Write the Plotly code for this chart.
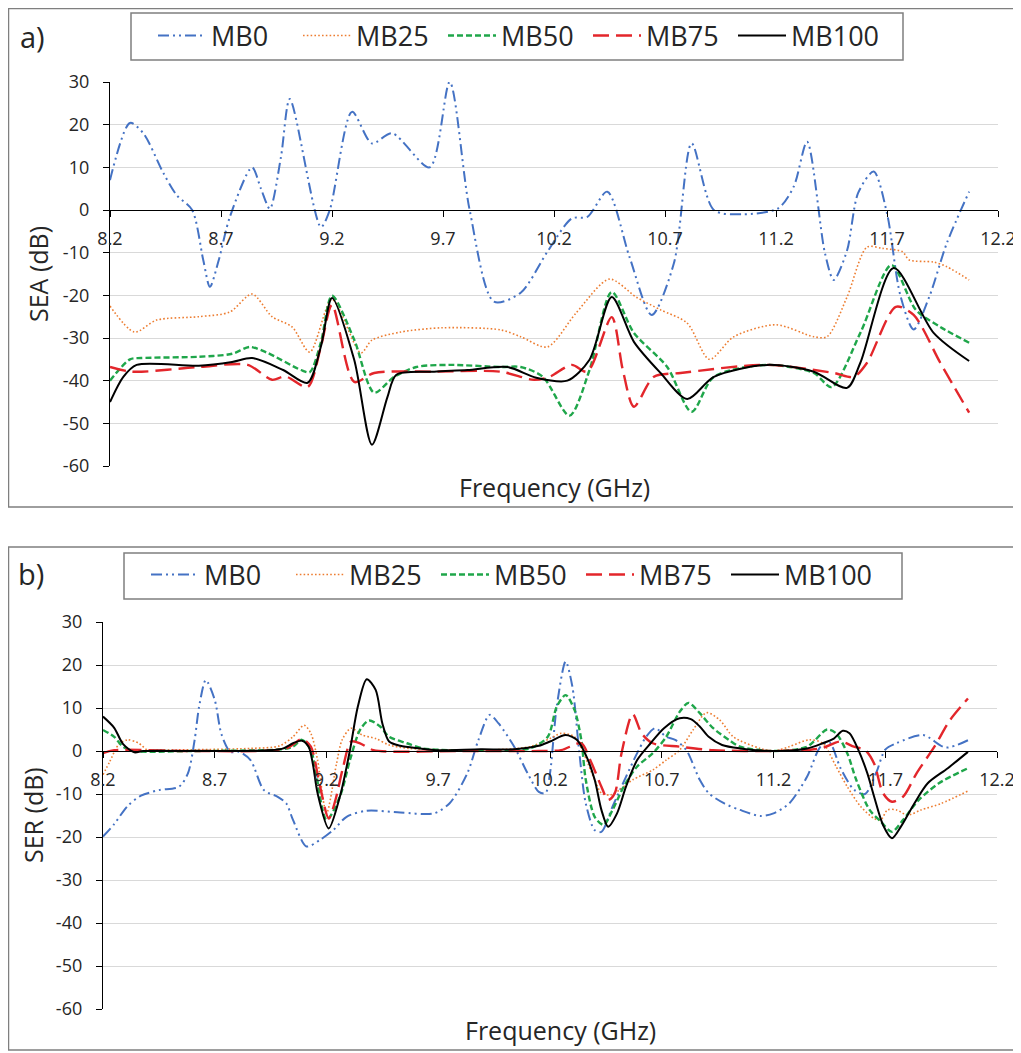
import plotly.graph_objects as go

# target picture size and the page's default body margin (the figure is drawn 8px in from the corner)
PAGE_W, PAGE_H, OFF = 1021, 1053, 8
FW, FH = PAGE_W - OFF, PAGE_H - OFF

series_names = ["MB0", "MB25", "MB50", "MB75", "MB100"]
x_ticks = [8.2, 8.7, 9.2, 9.7, 10.2, 10.7, 11.2, 11.7, 12.2]
x_ticktext = ["8.2", "8.7", "9.2", "9.7", "10.2", "10.7", "11.2", "11.7", "12.2"]
y_ticks = [-60, -50, -40, -30, -20, -10, 0, 10, 20, 30]
y_ticktext = ["-60", "-50", "-40", "-30", "-20", "-10", "0", "10", "20", "30"]

# ---------- Panel a: SEA (dB) ----------
sea_mb0_f = [8.20, 8.29, 8.35, 8.44, 8.50, 8.57, 8.62, 8.65, 8.69, 8.74, 8.84, 8.88, 8.92, 8.97, 9.01, 9.15, 9.19,
             9.29, 9.38, 9.47, 9.64, 9.73, 9.82, 9.93, 10.05, 10.17, 10.28, 10.35, 10.44, 10.54, 10.64,
             10.74, 10.82, 10.92, 11.05, 11.21, 11.28, 11.34, 11.42, 11.46, 11.52, 11.57, 11.64, 11.70,
             11.76, 11.82, 11.89, 11.97, 12.07]
sea_mb0_v = [7, 20.4, 18, 8.7, 3.5, 0, -11.7, -18, -11.7, -1.6, 10, 5, 0.3, 12.4, 26, -4, 0,
             23, 15.6, 18, 10, 30, 0, -21.5, -19.4, -9.8, -2, -1.6, 4.3, -11, -24.6,
             -12.5, 15.6, 0, -1, 0.4, 5.5, 16, -10, -16.4, -9.5, 4, 9, -0.8,
             -20, -28, -20.4, -7.7, 4.3]

sea_mb25_f = [8.20, 8.31, 8.41, 8.60, 8.74, 8.84, 8.93, 9.02, 9.10, 9.20, 9.33, 9.38, 9.51, 9.70, 9.96,
              10.05, 10.17, 10.30, 10.45, 10.57, 10.68, 10.80, 10.90, 11.01, 11.20, 11.37, 11.43, 11.52,
              11.61, 11.68, 11.77, 11.80, 11.91, 11.97, 12.07]
sea_mb25_v = [-22.5, -28.6, -25.8, -25, -23.9, -19.7, -25, -27.4, -33.3, -21, -33.5, -30.5, -28.6, -27.6, -28.1,
              -29.7, -32.1, -24.1, -16.2, -20.4, -23.4, -26.5, -35, -29.7, -26.9, -29.7, -29.7, -20.4,
              -8.7, -9, -9.8, -11.7, -12.2, -13.3, -16.4]

sea_mb50_f = [8.20, 8.29, 8.34, 8.60, 8.75, 8.83, 8.91, 9.06, 9.10, 9.15, 9.20, 9.30, 9.39, 9.48, 9.58, 9.73,
              9.96, 10.05, 10.15, 10.27, 10.36, 10.46, 10.56, 10.71, 10.82, 10.92, 11.16, 11.37, 11.45,
              11.58, 11.72, 11.83, 11.94, 12.07]
sea_mb50_v = [-40, -35, -34.7, -34.4, -33.7, -32.1, -33.5, -37.5, -38, -31, -20.1, -30.4, -42.8, -39.1, -36.8, -36.3,
              -36.8, -36.8, -39.1, -48.2, -37.5, -19.2, -28.8, -36.8, -47.3, -39.1, -36.3, -38.2, -41.5,
              -28.8, -12.9, -23.4, -27.4, -31.1]

sea_mb75_f = [8.20, 8.30, 8.60, 8.82, 8.93, 8.99, 9.09, 9.15, 9.20, 9.30, 9.39, 9.66, 9.96, 10.11, 10.18,
              10.28, 10.35, 10.46, 10.51, 10.56, 10.65, 10.77, 11.16, 11.46, 11.55, 11.61, 11.74, 11.82,
              11.94, 12.07]
sea_mb75_v = [-36.8, -37.9, -36.8, -36.3, -39.8, -39, -41.5, -32, -22.2, -40.3, -38.2, -37.9, -37.9, -39.8, -39.1,
              -36.3, -37.9, -25.1, -37.5, -46.1, -39.1, -38.2, -36.3, -38.2, -39.1, -35.8, -22.7, -24.6,
              -35.8, -47.5]

sea_mb100_f = [8.20, 8.26, 8.32, 8.60, 8.75, 8.84, 8.98, 9.09, 9.15, 9.20, 9.30, 9.38, 9.45, 9.49, 9.66,
               9.81, 9.99, 10.12, 10.26, 10.36, 10.46, 10.56, 10.68, 10.80, 10.92, 11.16, 11.37, 11.52,
               11.58, 11.73, 11.91, 12.07]
sea_mb100_v = [-45, -39.1, -36.3, -36.5, -35.6, -34.7, -37.5, -40.5, -32, -20.6, -35.1, -55, -43.8, -38.6, -37.9,
               -37.5, -36.8, -39.3, -40, -35.1, -20.4, -30.9, -38.2, -44.3, -39.1, -36.3, -37.9, -41.7,
               -35.8, -13.6, -28.8, -35.4]

# ---------- Panel b: SER (dB) ----------
ser_mb0_f = [8.20, 8.25, 8.31, 8.37, 8.45, 8.54, 8.58, 8.61, 8.63, 8.66,
             8.70, 8.73, 8.77, 8.81, 8.86, 8.92, 8.98, 9.02, 9.05, 9.11,
             9.17, 9.23, 9.29, 9.38, 9.53, 9.68, 9.75, 9.83, 9.88, 9.93,
             9.97, 10.04, 10.10, 10.15, 10.18, 10.20, 10.23, 10.27, 10.30, 10.33,
             10.36, 10.40, 10.43, 10.48, 10.54, 10.59, 10.63, 10.67, 10.72, 10.76,
             10.81, 10.87, 10.91, 10.98, 11.05, 11.14, 11.20, 11.27, 11.35, 11.41,
             11.45, 11.50, 11.56, 11.61, 11.66, 11.70, 11.75, 11.87, 11.97, 12.07]
ser_mb0_v = [-19.9, -17, -12.8, -10.4, -9.1, -8.3, -5.2, 2.6, 10.3, 16.5,
             11.9, 3.9, -0.2, -0.2, -2.1, -9.1, -10.6, -12.2, -16, -22.2,
             -20.7, -18.4, -15.3, -13.9, -14.3, -14.5, -12.2, -5.2, 2.6, 8.4,
             6.4, 1, -5.2, -9.5, -9.8, -5.2, 10.3, 20.8, 15, 0.2,
             -12.2, -18.4, -18.8, -12.9, -6, -0.5, 3.3, 5.3, 3.3, 2.6,
             0.2, -6.7, -9.8, -12.2, -13.7, -15.1, -14.5, -12.2, -6, 1,
             2, -4, -9, -10, -5, 0.3, 1.8, 3.7, 0.8, 2.5]

ser_mb25_f = [8.20, 8.23, 8.27, 8.31, 8.36, 8.40, 8.45, 8.86, 8.99, 9.05,
              9.10, 9.13, 9.16, 9.20, 9.245, 9.27, 9.31, 9.36, 9.42, 9.48,
              9.57, 9.90, 10.11, 10.20, 10.25, 10.31, 10.35, 10.40, 10.43, 10.47,
              10.51, 10.57, 10.66, 10.72, 10.78, 10.84, 10.90, 10.96, 11.02, 11.14,
              11.20, 11.27, 11.36, 11.42, 11.48, 11.53, 11.59, 11.65, 11.68, 11.71,
              11.75, 11.80, 11.86, 11.95, 12.07]
ser_mb25_v = [-5.5, -2.5, 1.5, 2.6, 1.8, 0.2, 0.2, 0.6, 1.2, 3.3,
              6, 4.1, -2.1, -14.5, -2.9, 2.6, 5.3, 3.7, 2.9, 1.4,
              0.6, 0.2, 1, 2.9, 4.1, 3.3, -0.5, -6.7, -9.8, -10.2,
              -9.1, -6.7, -4.4, -2.1, 0.2, 4.9, 8.9, 7.2, 3.3, 0.6,
              0, 1, 2.6, 1.8, -3.6, -8.3, -12.9, -15.7, -16, -13.7,
              -13.7, -14.9, -13.7, -12.2, -9.3]

ser_mb50_f = [8.20, 8.25, 8.29, 8.34, 8.60, 9.00, 9.05, 9.09, 9.13, 9.20, 9.26,
              9.305, 9.35, 9.39, 9.44, 9.48, 9.56, 9.63, 9.75, 9.95, 10.11, 10.19,
              10.23, 10.27, 10.31, 10.34, 10.36, 10.40, 10.44, 10.48, 10.53, 10.59,
              10.66, 10.72, 10.78, 10.82, 10.87, 10.93, 11.00, 11.05, 11.20, 11.35,
              11.44, 11.48, 11.53, 11.57, 11.63, 11.68, 11.73, 11.78, 11.85, 11.94,
              12.07]
ser_mb50_v = [4.9, 3.3, 1.0, 0, 0, 0.4, 1, 2.6, 0.2, -16, -10.6,
              -2.1, 4.9, 7.1, 5.7, 3.3, 1.8, 0.6, 0.2, 0.2, 0.6, 3.3,
              10.3, 13, 9.5, 2.6, -6.7, -15.3, -17.2, -13.7, -8.3, -3.6,
              -0.5, 3.3, 9.1, 11.2, 8.8, 5.3, 2.6, 1, 0, 1,
              5, 4.1, -0.5, -6.7, -13.7, -16.4, -18.8, -16, -11.4, -7.5,
              -4]

ser_mb75_f = [8.20, 8.25, 8.60, 9.02, 9.09, 9.13, 9.17, 9.21, 9.24, 9.275, 9.31,
              9.35, 9.41, 9.80, 10.15, 10.25, 10.34, 10.38, 10.43, 10.46, 10.49,
              10.52, 10.57, 10.61, 10.66, 10.78, 10.93, 11.20, 11.41, 11.50, 11.56,
              11.61, 11.65, 11.69, 11.73, 11.78, 11.84, 11.92, 11.99, 12.07]
ser_mb75_v = [-0.5, 0.2, 0, 0.6, 2.8, 1, -8, -15.7, -11.4, -3.6, 2.2,
              1.8, 0.2, 0, 0, 0.2, 1.8, -2.1, -8.3, -11.4, -9.8,
              -0.5, 8.6, 4.1, 1.8, 1.0, 0.2, 0, 0.6, 2.2, 1,
              0.2, -2.9, -9.8, -11.8, -10.6, -5.2, 1, 7.2, 12.2]

ser_mb100_f = [8.20, 8.25, 8.29, 8.34, 8.38, 8.70, 9.00, 9.05, 9.09, 9.12,
               9.14, 9.16, 9.21, 9.26, 9.305, 9.34, 9.38, 9.42, 9.45, 9.48,
               9.53, 9.62, 9.69, 9.89, 10.04, 10.15, 10.20, 10.27, 10.32, 10.36,
               10.40, 10.43, 10.46, 10.50, 10.54, 10.59, 10.65, 10.71, 10.78, 10.83,
               10.87, 10.91, 10.97, 11.05, 11.20, 11.35, 11.42, 11.47, 11.51, 11.54,
               11.58, 11.62, 11.65, 11.69, 11.73, 11.77, 11.83, 11.89, 11.98, 12.07]
ser_mb100_v = [8.0, 5.4, 1.6, -0.3, 0, 0, 0.5, 1.8, 2.4, 1,
               -3.3, -9.8, -18, -10.6, 0.2, 10.3, 16.7, 14.2, 6.4, 2.2,
               1.2, 0.6, 0.2, 0.4, 0.4, 1.2, 2.2, 3.7, 2.6, -0.9,
               -6.7, -13.7, -17.6, -14.5, -8.3, -2.1, 1.8, 5.3, 7.6, 7.4,
               5.7, 3.3, 1.4, 0.6, 0, 0.6, 1.8, 2.9, 4.7, 4.1,
               0.2, -5.2, -10.6, -17.2, -20.3, -17.6, -12.2, -7.5, -4.0, -0.2]

sea_data = [(sea_mb0_f, sea_mb0_v), (sea_mb25_f, sea_mb25_v), (sea_mb50_f, sea_mb50_v),
            (sea_mb75_f, sea_mb75_v), (sea_mb100_f, sea_mb100_v)]
ser_data = [(ser_mb0_f, ser_mb0_v), (ser_mb25_f, ser_mb25_v), (ser_mb50_f, ser_mb50_v),
            (ser_mb75_f, ser_mb75_v), (ser_mb100_f, ser_mb100_v)]

styles = [
    dict(color="#4472C4", width=2.0, dash="11px,4px,2px,4px,2px,4px"),
    dict(color="#ED7D31", width=1.6, dash="1.6px,2.2px"),
    dict(color="#1FA64A", width=2.4, dash="6px,3px"),
    dict(color="#E3262B", width=2.4, dash="16px,7px"),
    dict(color="#000000", width=2.0, dash="solid"),
]

FONT = "Open Sans"
TXT = "#262626"


def px(p):
    """page x pixel -> paper fraction"""
    return (p - OFF) / FW


def py(p):
    """page y pixel -> paper fraction"""
    return 1 - (p - OFF) / FH


fig = go.Figure()

for i, (f, v) in enumerate(sea_data):
    fig.add_trace(go.Scatter(x=f, y=v, mode="lines", name=series_names[i], line=styles[i],
                             line_shape="spline", line_smoothing=0.8,
                             xaxis="x", yaxis="y", legend="legend"))
for i, (f, v) in enumerate(ser_data):
    fig.add_trace(go.Scatter(x=f, y=v, mode="lines", name=series_names[i], line=styles[i],
                             line_shape="spline", line_smoothing=0.8,
                             xaxis="x2", yaxis="y2", legend="legend2"))

# plot area geometry (page pixels)
A_X = [px(110), px(998)]
A_Y = [py(466), py(82)]
B_X = [px(103), px(997)]
B_Y = [py(1009), py(622)]


def zero_pos(dom):
    return dom[0] + (0 - (-60)) / 90 * (dom[1] - dom[0])


xcommon = dict(range=[8.2, 12.2], tickmode="array", tickvals=x_ticks, ticktext=x_ticktext,
               showgrid=False, zeroline=False, fixedrange=True, automargin=False)
ycommon = dict(range=[-60, 30], tickmode="array", tickvals=y_ticks, ticktext=y_ticktext,
               zeroline=False, fixedrange=True, automargin=False)


def xmain(dom, ypos):
    return dict(**xcommon, domain=dom, anchor="free", position=ypos, ticks="outside", ticklen=6,
                tickwidth=1.3, tickcolor="black", showline=True, linecolor="black", linewidth=1.3,
                tickfont=dict(family=FONT, size=18, color=TXT), ticklabelstandoff=6)


def xover(base, ypos):
    return dict(**xcommon, overlaying=base, anchor="free", position=ypos, ticks="inside", ticklen=6,
                tickwidth=1.3, tickcolor="black", showline=False, showticklabels=False)


def ymain(dom, anchor):
    return dict(**ycommon, domain=dom, anchor=anchor, ticks="outside", ticklen=6, tickwidth=1.3,
                tickcolor="black", showline=True, linecolor="black", linewidth=1.3,
                showgrid=True, gridcolor="#D9D9D9", gridwidth=1,
                tickfont=dict(family=FONT, size=18, color=TXT), ticklabelstandoff=10)


def yover(base, anchor):
    return dict(**ycommon, overlaying=base, anchor=anchor, ticks="inside", ticklen=6, tickwidth=1.3,
                tickcolor="black", showline=False, showgrid=False, showticklabels=False)


legend_common = dict(orientation="h", xanchor="left", yanchor="middle", bgcolor="rgba(0,0,0,0)",
                     borderwidth=0, font=dict(family=FONT, size=27, color=TXT),
                     itemwidth=48, entrywidth=82, entrywidthmode="pixels")


def ann(text, x, y, size, angle=0):
    return dict(text=text, x=px(x), y=py(y), xref="paper", yref="paper", showarrow=False,
                xanchor="center", yanchor="middle", textangle=angle,
                font=dict(family=FONT, size=size, color=TXT))


def frame(x0, y0, x1, y1, color="#7F7F7F", width=1.5):
    return dict(type="rect", xref="paper", yref="paper", x0=px(x0), x1=px(x1), y0=py(y1), y1=py(y0),
                line=dict(color=color, width=width), fillcolor="rgba(0,0,0,0)", layer="below")


fig.update_layout(
    template="none",
    width=FW, height=FH, autosize=False,
    margin=dict(l=0, r=0, t=0, b=0, pad=0, autoexpand=False),
    paper_bgcolor="white", plot_bgcolor="white",
    showlegend=True,
    xaxis=xmain(A_X, zero_pos(A_Y)),
    yaxis=ymain(A_Y, "x"),
    xaxis2=xmain(B_X, zero_pos(B_Y)),
    yaxis2=ymain(B_Y, "x2"),
    xaxis3=xover("x", zero_pos(A_Y)),
    yaxis3=yover("y", "x"),
    xaxis4=xover("x2", zero_pos(B_Y)),
    yaxis4=yover("y2", "x2"),
    legend=dict(**legend_common, x=px(153), y=py(36)),
    legend2=dict(**legend_common, x=px(146), y=py(575)),
    shapes=[
        frame(8.5, 8.5, 1015, 507),
        frame(8.5, 547, 1015, 1050),
        frame(131, 13, 903, 60),
        frame(124, 553, 902, 599),
    ],
    annotations=[
        ann("a)", 32, 37, 29),
        ann("b)", 31, 573, 29),
        ann("SEA (dB)", 38, 274, 25, -90),
        ann("SER (dB)", 33, 815, 25, -90),
        ann("Frequency (GHz)", 554, 487, 25),
        ann("Frequency (GHz)", 560, 1030, 25),
    ],
)

fig.write_html("out.html")
